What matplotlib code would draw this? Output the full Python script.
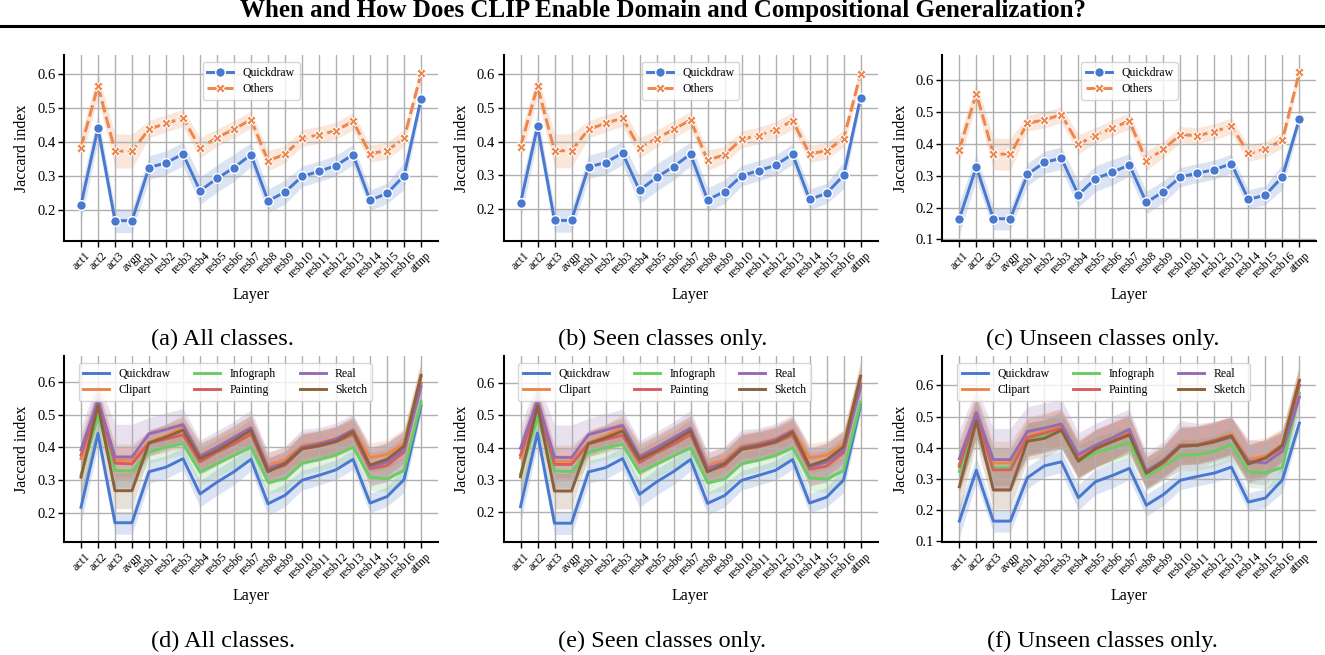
import numpy as np
import matplotlib.pyplot as plt
from matplotlib.lines import Line2D
from matplotlib.ticker import MultipleLocator

plt.rcParams['font.family'] = 'Liberation Serif'

layers = ['act1', 'act2', 'act3', 'avgp', 'resb1', 'resb2', 'resb3', 'resb4', 'resb5',
          'resb6', 'resb7', 'resb8', 'resb9', 'resb10', 'resb11', 'resb12', 'resb13',
          'resb14', 'resb15', 'resb16', 'attnp']

# ---- top row: Quickdraw vs Others ----
qd_all = [0.216, 0.442, 0.169, 0.169, 0.325, 0.339, 0.365, 0.257, 0.293, 0.325, 0.363,
          0.227, 0.253, 0.299, 0.314, 0.331, 0.363, 0.229, 0.249, 0.301, 0.527]
oth_all = [0.384, 0.566, 0.374, 0.373, 0.438, 0.455, 0.471, 0.383, 0.413, 0.438, 0.466,
           0.345, 0.364, 0.412, 0.421, 0.434, 0.461, 0.366, 0.375, 0.411, 0.602]
qd_seen = [0.218, 0.445, 0.167, 0.167, 0.325, 0.338, 0.366, 0.256, 0.294, 0.326, 0.363,
           0.228, 0.252, 0.299, 0.314, 0.330, 0.363, 0.229, 0.247, 0.300, 0.530]
oth_seen = [0.385, 0.564, 0.373, 0.373, 0.436, 0.454, 0.470, 0.381, 0.409, 0.436, 0.464,
            0.345, 0.361, 0.407, 0.418, 0.434, 0.462, 0.364, 0.373, 0.408, 0.600]
qd_unseen = [0.165, 0.328, 0.165, 0.165, 0.304, 0.342, 0.355, 0.240, 0.291, 0.311, 0.334,
             0.216, 0.250, 0.296, 0.308, 0.319, 0.338, 0.226, 0.239, 0.297, 0.479]
oth_unseen = [0.382, 0.558, 0.369, 0.367, 0.465, 0.475, 0.492, 0.399, 0.426, 0.450, 0.472,
              0.347, 0.383, 0.429, 0.426, 0.438, 0.457, 0.370, 0.383, 0.412, 0.626]

qd_err = [0.05, 0.04, 0.035, 0.035, 0.035, 0.035, 0.035, 0.04, 0.04, 0.04, 0.035,
          0.035, 0.035, 0.03, 0.03, 0.03, 0.03, 0.03, 0.03, 0.04, 0.02]
oth_err = [0.04, 0.035, 0.05, 0.05, 0.025, 0.025, 0.025, 0.03, 0.025, 0.025, 0.025,
           0.03, 0.025, 0.025, 0.025, 0.025, 0.025, 0.025, 0.025, 0.025, 0.025]

# ---- bottom row: per domain ----
domains = ['Quickdraw', 'Clipart', 'Infograph', 'Painting', 'Real', 'Sketch']

clip_all = [0.365, 0.535, 0.360, 0.360, 0.415, 0.435, 0.460, 0.375, 0.400, 0.428, 0.455,
            0.344, 0.362, 0.405, 0.413, 0.426, 0.454, 0.368, 0.378, 0.411, 0.615]
info_all = [0.315, 0.495, 0.329, 0.327, 0.385, 0.400, 0.411, 0.324, 0.350, 0.375, 0.400,
            0.293, 0.303, 0.351, 0.362, 0.377, 0.400, 0.308, 0.303, 0.329, 0.539]
paint_all = [0.376, 0.535, 0.351, 0.349, 0.413, 0.425, 0.438, 0.355, 0.385, 0.410, 0.440,
             0.329, 0.344, 0.395, 0.403, 0.416, 0.439, 0.334, 0.344, 0.385, 0.595]
real_all = [0.392, 0.545, 0.370, 0.370, 0.441, 0.454, 0.469, 0.372, 0.400, 0.430, 0.460,
            0.335, 0.352, 0.400, 0.410, 0.425, 0.452, 0.340, 0.355, 0.392, 0.585]
sketch_all = [0.308, 0.528, 0.267, 0.267, 0.413, 0.431, 0.452, 0.365, 0.390, 0.420, 0.452,
              0.325, 0.350, 0.395, 0.405, 0.418, 0.447, 0.345, 0.363, 0.403, 0.620]

clip_seen = [0.368, 0.535, 0.358, 0.358, 0.415, 0.436, 0.462, 0.374, 0.401, 0.428, 0.456,
             0.345, 0.362, 0.406, 0.414, 0.427, 0.455, 0.367, 0.377, 0.410, 0.617]
info_seen = [0.318, 0.492, 0.328, 0.326, 0.385, 0.399, 0.410, 0.323, 0.349, 0.374, 0.399,
             0.292, 0.302, 0.350, 0.361, 0.376, 0.399, 0.307, 0.302, 0.329, 0.540]
paint_seen = [0.377, 0.535, 0.348, 0.348, 0.412, 0.425, 0.438, 0.354, 0.384, 0.410, 0.440,
              0.328, 0.343, 0.394, 0.402, 0.415, 0.438, 0.333, 0.343, 0.384, 0.596]
real_seen = [0.398, 0.546, 0.370, 0.369, 0.440, 0.454, 0.468, 0.372, 0.400, 0.430, 0.460,
             0.336, 0.353, 0.400, 0.410, 0.424, 0.451, 0.341, 0.355, 0.392, 0.586]
sketch_seen = [0.310, 0.528, 0.266, 0.266, 0.412, 0.430, 0.451, 0.364, 0.390, 0.420, 0.451,
               0.325, 0.350, 0.395, 0.405, 0.418, 0.447, 0.344, 0.362, 0.402, 0.620]

clip_unseen = [0.346, 0.500, 0.351, 0.351, 0.438, 0.452, 0.467, 0.367, 0.400, 0.425, 0.452,
               0.324, 0.360, 0.411, 0.411, 0.424, 0.443, 0.362, 0.373, 0.411, 0.616]
info_unseen = [0.324, 0.492, 0.337, 0.337, 0.427, 0.438, 0.454, 0.356, 0.384, 0.400, 0.416,
               0.308, 0.340, 0.376, 0.378, 0.389, 0.411, 0.324, 0.319, 0.337, 0.575]
paint_unseen = [0.340, 0.505, 0.329, 0.329, 0.432, 0.447, 0.463, 0.362, 0.395, 0.420, 0.445,
                0.319, 0.351, 0.405, 0.408, 0.424, 0.438, 0.351, 0.367, 0.400, 0.600]
real_unseen = [0.365, 0.513, 0.362, 0.362, 0.452, 0.463, 0.476, 0.378, 0.408, 0.432, 0.459,
               0.326, 0.359, 0.408, 0.408, 0.419, 0.434, 0.357, 0.351, 0.389, 0.562]
sketch_unseen = [0.275, 0.486, 0.265, 0.265, 0.421, 0.430, 0.456, 0.357, 0.398, 0.420, 0.441,
                 0.319, 0.356, 0.405, 0.408, 0.419, 0.438, 0.348, 0.367, 0.408, 0.616]

# band half-widths per domain (d, e)
clip_err = [0.06, 0.05, 0.05, 0.05, 0.035, 0.035, 0.04, 0.04, 0.04, 0.04, 0.045,
            0.04, 0.04, 0.04, 0.04, 0.04, 0.04, 0.045, 0.045, 0.045, 0.04]
info_err = [0.06, 0.05, 0.05, 0.05, 0.035, 0.035, 0.035, 0.04, 0.04, 0.04, 0.04,
            0.035, 0.035, 0.035, 0.035, 0.035, 0.035, 0.04, 0.04, 0.04, 0.035]
paint_err = [0.06, 0.05, 0.05, 0.05, 0.04, 0.04, 0.04, 0.04, 0.04, 0.04, 0.045,
             0.04, 0.04, 0.045, 0.045, 0.045, 0.045, 0.05, 0.05, 0.05, 0.04]
real_err = [0.07, 0.06, 0.10, 0.10, 0.05, 0.05, 0.05, 0.05, 0.05, 0.05, 0.055,
            0.05, 0.05, 0.055, 0.05, 0.05, 0.05, 0.06, 0.06, 0.055, 0.045]
sketch_err = [0.07, 0.06, 0.055, 0.055, 0.04, 0.04, 0.04, 0.045, 0.045, 0.045, 0.045,
              0.04, 0.04, 0.045, 0.045, 0.045, 0.045, 0.05, 0.05, 0.05, 0.045]
# wider bands for unseen classes (f)
clip_err_u = [0.08, 0.07, 0.07, 0.07, 0.06, 0.06, 0.06, 0.06, 0.06, 0.06, 0.06,
              0.05, 0.05, 0.06, 0.06, 0.06, 0.06, 0.06, 0.06, 0.05, 0.05]
info_err_u = [0.07, 0.06, 0.06, 0.06, 0.05, 0.05, 0.05, 0.05, 0.05, 0.05, 0.05,
              0.045, 0.045, 0.05, 0.05, 0.05, 0.05, 0.05, 0.05, 0.05, 0.045]
paint_err_u = [0.08, 0.07, 0.07, 0.07, 0.06, 0.06, 0.06, 0.06, 0.06, 0.06, 0.06,
               0.05, 0.05, 0.06, 0.06, 0.06, 0.06, 0.06, 0.06, 0.05, 0.05]
real_err_u = [0.09, 0.08, 0.10, 0.10, 0.08, 0.08, 0.08, 0.07, 0.07, 0.07, 0.065,
              0.06, 0.06, 0.08, 0.07, 0.065, 0.065, 0.07, 0.07, 0.06, 0.05]
sketch_err_u = [0.08, 0.07, 0.06, 0.06, 0.06, 0.06, 0.06, 0.06, 0.06, 0.06, 0.06,
                0.05, 0.05, 0.06, 0.06, 0.06, 0.06, 0.06, 0.06, 0.05, 0.05]

colors = ['#4878d0', '#ee854a', '#6acc64', '#d65f5f', '#956cb4', '#8c613c']

title = 'When and How Does CLIP Enable Domain and Compositional Generalization?'
captions_top = ['(a) All classes.', '(b) Seen classes only.', '(c) Unseen classes only.']
captions_bot = ['(d) All classes.', '(e) Seen classes only.', '(f) Unseen classes only.']


def style_axes(ax, ylim):
    x = np.arange(len(layers))
    ax.set_xlim(-1, len(layers))
    ax.set_ylim(*ylim)
    ax.yaxis.set_major_locator(MultipleLocator(0.1))
    ax.set_xticks(x)
    ax.set_xticklabels(layers, rotation=45, fontsize=8.5)
    ax.tick_params(axis='y', labelsize=10.5)
    ax.tick_params(direction='out', length=4, width=1, color='black', pad=2)
    ax.grid(True, color='#b0b0b0', lw=1.0)
    for s in ['top', 'right']:
        ax.spines[s].set_visible(False)
    for s in ['left', 'bottom']:
        ax.spines[s].set_linewidth(1.5)
    ax.set_xlabel('Layer', fontsize=11.5, labelpad=5)
    ax.set_ylabel('Jaccard index', fontsize=11.5, labelpad=5)


def draw_top(ax, qd, oth, ylim):
    x = np.arange(len(layers))
    qd, oth = np.array(qd), np.array(oth)
    e1, e2 = np.array(qd_err), np.array(oth_err)
    ax.fill_between(x, qd - e1, qd + e1, color=colors[0], alpha=0.2, lw=0)
    ax.fill_between(x, oth - e2, oth + e2, color=colors[1], alpha=0.2, lw=0)
    ax.plot(x, qd, color=colors[0], lw=2.1, marker='o', ms=7, mec='white', mew=1,
            label='Quickdraw')
    ax.plot(x, oth, color=colors[1], lw=2.1, dashes=(4, 1.5), marker='X', ms=7,
            mec='white', mew=0.8, label='Others')
    style_axes(ax, ylim)
    ax.legend(loc='upper center', fontsize=8.5, handlelength=2.2, labelspacing=0.35,
              borderaxespad=0.6, framealpha=0.8)


def draw_bottom(ax, series, errs, ylim):
    x = np.arange(len(layers))
    for vals, err, c in zip(series, errs, colors):
        vals, err = np.array(vals), np.array(err)
        ax.fill_between(x, vals - err, vals + err, color=c, alpha=0.2, lw=0)
    for vals, c, name in zip(series, colors, domains):
        ax.plot(x, vals, color=c, lw=2.1, label=name)
    style_axes(ax, ylim)
    ax.legend(ncol=3, loc='upper left', bbox_to_anchor=(0.02, 1), fontsize=8.5,
              handlelength=2.2, labelspacing=0.35, borderaxespad=0.6,
              columnspacing=2.0, framealpha=0.8)


fig = plt.figure(figsize=(13.25, 6.55), dpi=100)

lefts = [0.0483, 0.380, 0.7112]
w, h = 0.2823, 0.284
top_ylims = [(0.109, 0.656), (0.106, 0.656), (0.095, 0.679)]
bot_ylims = [(0.109, 0.678), (0.108, 0.681), (0.097, 0.693)]

top_data = [(qd_all, oth_all), (qd_seen, oth_seen), (qd_unseen, oth_unseen)]
bot_data = [
    [qd_all, clip_all, info_all, paint_all, real_all, sketch_all],
    [qd_seen, clip_seen, info_seen, paint_seen, real_seen, sketch_seen],
    [qd_unseen, clip_unseen, info_unseen, paint_unseen, real_unseen, sketch_unseen],
]
bot_errs = [
    [qd_err, clip_err, info_err, paint_err, real_err, sketch_err],
    [qd_err, clip_err, info_err, paint_err, real_err, sketch_err],
    [qd_err, clip_err_u, info_err_u, paint_err_u, real_err_u, sketch_err_u],
]

for i in range(3):
    ax = fig.add_axes([lefts[i], 0.632, w, h])
    draw_top(ax, top_data[i][0], top_data[i][1], top_ylims[i])
    ax = fig.add_axes([lefts[i], 0.172, w, h])
    draw_bottom(ax, bot_data[i], bot_errs[i], bot_ylims[i])

cap_x = [0.168, 0.5, 0.832]
for i in range(3):
    fig.text(cap_x[i], 0.4733, captions_top[i], ha='center', va='baseline', fontsize=17.5)
    fig.text(cap_x[i], 0.0122, captions_bot[i], ha='center', va='baseline', fontsize=17.5)

fig.text(0.5, 0.974, title, ha='center', va='baseline', fontsize=18, fontweight='bold')
fig.add_artist(Line2D([0, 1], [0.960, 0.960], transform=fig.transFigure, color='black', lw=2.2))

fig.savefig('out.png', dpi=100)
